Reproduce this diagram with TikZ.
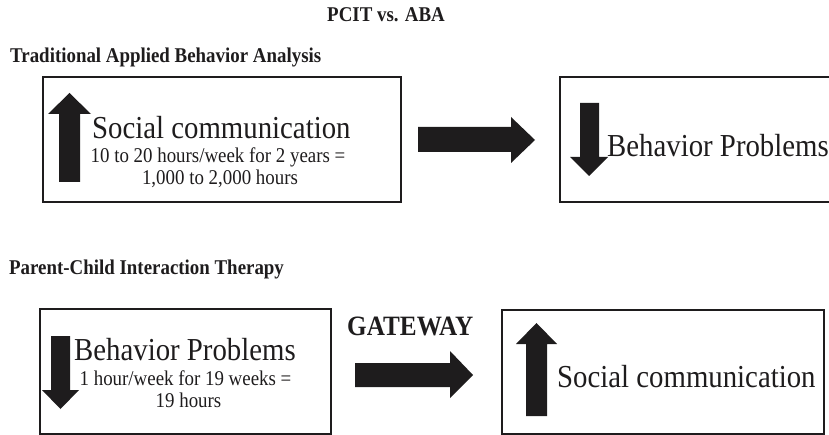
\documentclass[tikz,border=0pt]{standalone}
\usepackage{fontspec}
\setmainfont{Liberation Serif}[FakeStretch=0.9]
\definecolor{ink}{RGB}{30,28,29}
\begin{document}
\begin{tikzpicture}[x=1pt,y=-1pt,
  panel/.style={draw=ink,line width=1.5pt},
  blockarrow/.style={fill=ink,draw=none},
  heading/.style={anchor=base west,inner sep=0pt,text=ink,font=\bfseries\fontsize{21}{21}\selectfont},
  bigtext/.style={anchor=base west,inner sep=0pt,text=ink,font=\fontsize{32}{32}\selectfont},
  smalltext/.style={anchor=base,inner sep=0pt,text=ink,font=\fontsize{21}{21}\selectfont},
  gate/.style={anchor=base west,inner sep=0pt,text=ink,font=\bfseries\fontsize{28}{28}\selectfont}]
\useasboundingbox (0,0) rectangle (829,435);
\clip (0,0) rectangle (829,435);

% headings
\node[heading] (title) at (327,22) {PCIT vs. ABA};
\node[heading] (aba) at (10,63) {Traditional Applied Behavior Analysis};
\node[heading] (pcit) at (9,275) {Parent-Child Interaction Therapy};

% panels
\draw[panel] (43,77) rectangle (401,202);
\draw[panel] (560,77) rectangle (840,202);
\draw[panel] (40,309) rectangle (331,434);
\draw[panel] (502,310) rectangle (824,434);

% first row: social communication up, then behavior problems down
\fill[blockarrow] (59,182) -- (59,114) -- (48,114) -- (69.5,93) -- (91,114) -- (80,114) -- (80,182) -- cycle;
\node[bigtext] (soc1) at (92,139) {Social communication};
\node[smalltext] (hrs1) at (218,163) {10 to 20 hours/week for 2 years =};
\node[smalltext] (tot1) at (220,185) {1,000 to 2,000 hours};

\fill[blockarrow] (418,127) -- (511,127) -- (511,117) -- (535,140) -- (511,163) -- (511,152) -- (418,152) -- cycle;

\fill[blockarrow] (580,103) -- (599,103) -- (599,157) -- (608,157) -- (589,176) -- (570,157) -- (580,157) -- cycle;
\node[bigtext] (beh1) at (607,157) {Behavior Problems};

% second row: behavior problems down, then social communication up
\fill[blockarrow] (51,336) -- (70,336) -- (70,390) -- (79,390) -- (60.5,409) -- (42,390) -- (51,390) -- cycle;
\node[bigtext] (beh2) at (74,360) {Behavior Problems};
\node[smalltext] (hrs2) at (185.5,385) {1 hour/week for 19 weeks =};
\node[smalltext] (tot2) at (188.5,407) {19 hours};

\node[gate] (gateway) at (347,335) {GATEWAY};
\fill[blockarrow] (355,363) -- (450,363) -- (450,351) -- (473,375) -- (450,398) -- (450,387) -- (355,387) -- cycle;

\fill[blockarrow] (526,416) -- (526,344) -- (516,344) -- (536.5,323) -- (557,344) -- (547,344) -- (547,416) -- cycle;
\node[bigtext] (soc2) at (557,387) {Social communication};
\end{tikzpicture}
\end{document}
